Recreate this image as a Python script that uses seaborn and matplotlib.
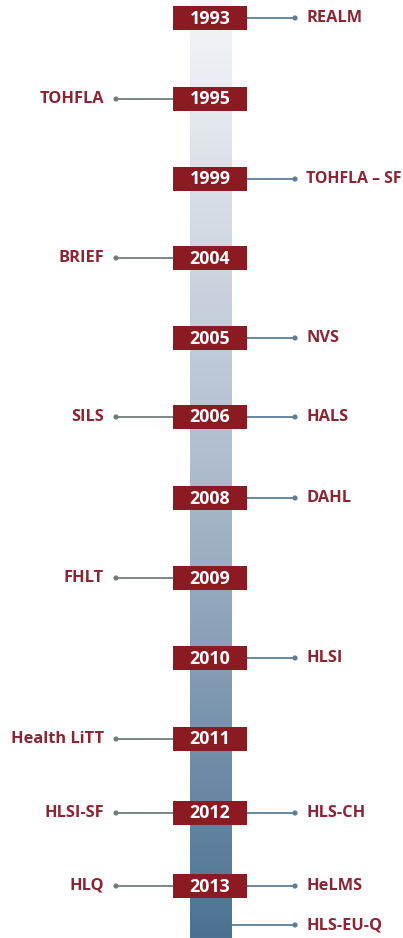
import numpy as np
import matplotlib
matplotlib.use("Agg")
import matplotlib.pyplot as plt
import seaborn as sns
import pandas as pd
from matplotlib.colors import LinearSegmentedColormap

sns.set_style("white")
plt.rcParams['font.family'] = ['Open Sans', 'DejaVu Sans']

years = ["1993", "1995", "1999", "2004", "2005", "2006", "2008", "2009",
         "2010", "2011", "2012", "2013", ""]
left_labels = ["", "TOHFLA", "", "BRIEF", "", "SILS", "", "FHLT", "",
               "Health LiTT", "HLSI-SF", "HLQ", ""]
right_labels = ["REALM", "", "TOHFLA – SF", "", "NVS", "HALS", "DAHL", "",
                "HLSI", "", "HLS-CH", "HeLMS", "HLS-EU-Q"]

# layout (pixel rows)
row_y = [18, 99, 179, 258, 338, 417, 498, 578, 658, 739, 813, 886, 925]

W, H = 403, 938
fig = plt.figure(figsize=(W / 100, H / 100), dpi=100)
ax = fig.add_axes([0, 0, 1, 1])
ax.set_xlim(0, W)
ax.set_ylim(H, 0)
ax.axis("off")

red = "#8c1a22"
text_red = "#8b2533"
left_line = "#6f7f78"
right_line = "#5b7d99"

# gradient bar
cmap = LinearSegmentedColormap.from_list("bar", ["#f5f6f9", "#aebccd", "#4b7192"])
grad = np.linspace(0, 1, 256).reshape(-1, 1)
ax.imshow(grad, aspect="auto", cmap=cmap, extent=(189.5, 231.5, H, 0), zorder=1)

bx0, bx1 = 173, 247
df = pd.DataFrame({"year": years, "left": left_labels, "right": right_labels, "y": row_y})

renderer = fig.canvas.get_renderer()
dots = []
for _, r in df.iterrows():
    y = r["y"]
    if r["left"]:
        ax.plot([116, bx0], [y, y], color=left_line, lw=1.3, zorder=2)
        ax.text(104, y, r["left"], ha="right", va="center", color=text_red,
                fontsize=11.8, fontweight="bold", zorder=4)
        dots.append({"x": 116, "y": y, "side": "L"})
    if r["right"]:
        start = bx1 if r["year"] else 231.5
        ax.plot([start, 295], [y, y], color=right_line, lw=1.3, zorder=2)
        t = ax.text(306, y, r["right"], ha="left", va="center", color=text_red,
                    fontsize=11.8, fontweight="bold", zorder=4)
        fs = 11.8
        while t.get_window_extent(renderer).x1 > W - 1 and fs > 8:
            fs -= 0.2
            t.set_fontsize(fs)
        dots.append({"x": 295, "y": y, "side": "R"})
    if r["year"]:
        ax.add_patch(plt.Rectangle((bx0, y - 12), bx1 - bx0, 24, facecolor=red,
                                   edgecolor="none", zorder=3))
        ax.text((bx0 + bx1) / 2, y + 0.5, r["year"], ha="center", va="center",
                color="white", fontsize=12.8, fontweight="bold", zorder=4)

dd = pd.DataFrame(dots)
sns.scatterplot(data=dd, x="x", y="y", hue="side",
                palette={"L": left_line, "R": right_line}, s=14,
                edgecolor="none", legend=False, ax=ax, zorder=5)
ax.set_xlim(0, W)
ax.set_ylim(H, 0)
ax.axis("off")

fig.savefig("out.png", dpi=100)
